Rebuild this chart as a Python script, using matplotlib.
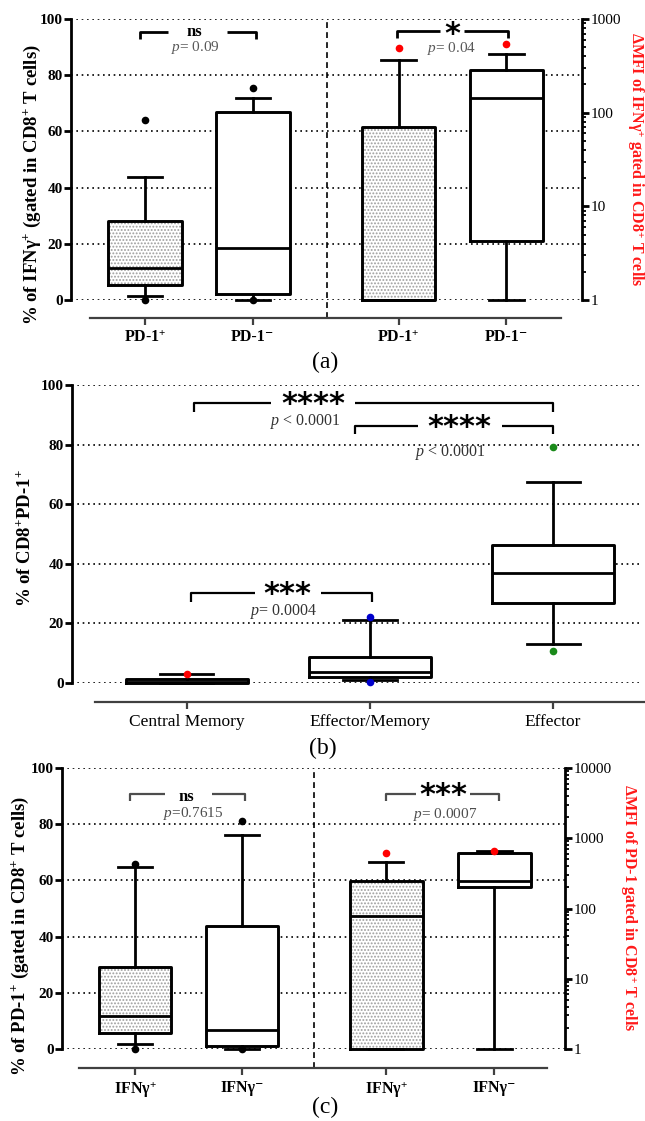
import matplotlib
matplotlib.use('Agg')
import matplotlib.pyplot as plt
import numpy as np
from matplotlib.ticker import FuncFormatter, LogLocator, NullFormatter

plt.rcParams['font.family'] = ['Liberation Serif', 'DejaVu Serif']
plt.rcParams['mathtext.fontset'] = 'custom'
plt.rcParams['mathtext.rm'] = 'Liberation Serif'
plt.rcParams['mathtext.it'] = 'Liberation Serif:italic'
plt.rcParams['mathtext.bf'] = 'Liberation Serif:bold'
plt.rcParams['hatch.linewidth'] = 0.9

SUP_P = r'$^{\mathbf{+}}$'
SUP_M = '\u207b'

##################### DATA #####################
# (a) % IFNg+ (left, linear) and dMFI (right, log)
a_labels = ['PD-1' + SUP_P, 'PD-1' + SUP_M, 'PD-1' + SUP_P, 'PD-1' + SUP_M]
a_lin_q1 = [5.3, 2.0]
a_lin_med = [11.4, 18.6]
a_lin_q3 = [28.1, 67.0]
a_lin_lo = [1.4, 0.0]
a_lin_hi = [43.8, 72.0]
a_lin_out = [[64.0, 0.0], [75.5, 0.0]]
a_log_q1 = [1.0, 4.3]
a_log_med = [1.0, 143.0]
a_log_q3 = [70.0, 283.0]
a_log_lo = [1.0, 1.0]
a_log_hi = [361.0, 418.0]
a_log_out = [[486.0], [540.0]]

# (b) % of CD8+PD-1+
b_labels = ['Central Memory', 'Effector/Memory', 'Effector']
b_q1 = [0.0, 1.9, 26.7]
b_med = [0.5, 3.7, 36.9]
b_q3 = [1.3, 8.7, 46.4]
b_lo = [0.0, 0.9, 13.0]
b_hi = [3.0, 21.0, 67.6]
b_out = [[3.0], [22.0, 0.5], [79.3, 10.9]]
b_out_colors = ['red', '#0000cc', '#1a8a1a']

# (c) % PD-1+ (left, linear) and dMFI of PD-1 (right, log)
c_labels = ['IFNγ' + SUP_P, 'IFNγ' + SUP_M, 'IFNγ' + SUP_P, 'IFNγ' + SUP_M]
c_lin_q1 = [5.7, 1.2]
c_lin_med = [11.6, 6.9]
c_lin_q3 = [29.2, 43.9]
c_lin_lo = [1.8, 0.0]
c_lin_hi = [64.6, 76.2]
c_lin_out = [[66.0, 0.0], [81.3, 0.0]]
c_log_q1 = [1.0, 200.0]
c_log_med = [77.0, 250.0]
c_log_q3 = [244.0, 617.0]
c_log_lo = [1.0, 1.0]
c_log_hi = [459.0, 666.0]
c_log_out = [[610.0], [666.0]]

GRID_LS = (0, (1, 2.2))
HATCH = '.....'
STAR = dict(ha='center', va='center', fontsize=22, fontweight='bold', family='DejaVu Sans')


def draw_boxes(ax, pos, q1, med, q3, lo, hi, out, hatched, width, capw, fcolors):
    stats = [dict(med=m, q1=a, q3=b, whislo=l, whishi=h, fliers=f)
             for a, m, b, l, h, f in zip(q1, med, q3, lo, hi, out)]
    # fill layer (white / stippled)
    fill = ax.bxp(stats, positions=pos, widths=width, patch_artist=True,
                  showcaps=False, showfliers=False, manage_ticks=False,
                  boxprops=dict(facecolor='white', edgecolor='0.62', linewidth=0),
                  whiskerprops=dict(linewidth=0), medianprops=dict(linewidth=0),
                  zorder=2)
    for patch, h in zip(fill['boxes'], hatched):
        if h:
            patch.set_hatch(HATCH)
        patch.set_clip_on(False)
    # outline layer
    art = ax.bxp(stats, positions=pos, widths=width, capwidths=capw,
                 manage_ticks=False,
                 boxprops=dict(color='black', linewidth=2.1),
                 whiskerprops=dict(color='black', linewidth=2.0),
                 capprops=dict(color='black', linewidth=2.0),
                 medianprops=dict(color='black', linewidth=2.0),
                 flierprops=dict(marker='o', markersize=5.5, markeredgewidth=0),
                 zorder=3)
    for fl, c in zip(art['fliers'], fcolors):
        fl.set_markerfacecolor(c)
    for key in art:
        for a in art[key]:
            a.set_clip_on(False)


def style_left(ax, offset):
    ax.set_ylim(0, 100)
    ax.set_yticks(range(0, 101, 20))
    ax.yaxis.grid(True, linestyle=GRID_LS, color='black', linewidth=1.2)
    ax.set_axisbelow(True)
    ax.spines['top'].set_visible(False)
    ax.spines['right'].set_visible(False)
    ax.spines['left'].set_linewidth(2)
    ax.spines['bottom'].set_position(('outward', offset))
    ax.spines['bottom'].set_linewidth(1.6)
    ax.spines['bottom'].set_color('0.25')
    ax.tick_params(axis='y', direction='out', length=5, width=2, labelsize=11, pad=1)
    ax.tick_params(axis='x', direction='out', length=5, width=1.6, color='0.25', pad=3)
    for t in ax.get_yticklabels():
        t.set_fontweight('bold')


def bracket(ax, x0, x1, y, drop, gap, lw=2.0, color='black'):
    ax.plot([x0, x0, gap[0]], [y - drop, y, y], color=color, lw=lw, solid_capstyle='butt', zorder=4)
    ax.plot([gap[1], x1, x1], [y, y, y - drop], color=color, lw=lw, solid_capstyle='butt', zorder=4)


def split_panel(rect, xlim, pos, divider, bounds, labels, lin, log, logtop, offset):
    ax = fig.add_axes(rect)
    style_left(ax, offset)
    ax.set_xlim(*xlim)
    ax.spines['bottom'].set_bounds(*bounds)
    ax.set_xticks(pos)
    ax.set_xticklabels(labels, fontsize=11.5, fontweight='bold')
    ax.axvline(divider, ymin=-offset / 0.72 / (rect[3] * 1121), ymax=1, color='black',
               lw=1.2, linestyle=(0, (3.5, 2.5)), clip_on=False, zorder=1)
    draw_boxes(ax, pos[:2], *lin, hatched=[True, False], width=0.68, capw=0.32,
               fcolors=['black', 'black'])

    ax2 = ax.twinx()
    ax2.set_yscale('log')
    ax2.set_ylim(1, logtop)
    ax2.set_xlim(*xlim)
    for s in ['top', 'left', 'bottom']:
        ax2.spines[s].set_visible(False)
    ax2.spines['right'].set_linewidth(2)
    ax2.yaxis.set_major_locator(LogLocator(base=10, numticks=10))
    ax2.yaxis.set_minor_locator(LogLocator(base=10, subs=np.arange(2, 10), numticks=50))
    ax2.yaxis.set_minor_formatter(NullFormatter())
    ax2.yaxis.set_major_formatter(FuncFormatter(lambda v, p: f'{v:g}'))
    ax2.tick_params(axis='y', which='major', direction='out', length=5, width=2, labelsize=11, pad=1)
    ax2.tick_params(axis='y', which='minor', direction='out', length=3, width=1.3)
    draw_boxes(ax2, pos[2:], *log, hatched=[True, False], width=0.68, capw=0.32,
               fcolors=['red', 'red'])
    return ax, ax2


fig = plt.figure(figsize=(6.45, 11.21), dpi=100)

################# PANEL (a) #################
a_pos = [1, 2, 3.35, 4.35]
ax_a, ax_a2 = split_panel([71 / 645, 1 - 300 / 1121, 511 / 645, 281 / 1121],
                          (0.315, 5.05), a_pos, 2.685, (0.49, 4.86), a_labels,
                          (a_lin_q1, a_lin_med, a_lin_q3, a_lin_lo, a_lin_hi, a_lin_out),
                          (a_log_q1, a_log_med, a_log_q3, a_log_lo, a_log_hi, a_log_out),
                          1000, 13)
bracket(ax_a, 0.95, 2.03, 95.5, 2.5, (1.21, 1.76))
ax_a.text(1.46, 95.3, 'ns', ha='center', va='center', fontsize=12, fontweight='bold')
ax_a.text(1.47, 90.0, '$p$= 0.09', ha='center', va='center', fontsize=11, color='0.35')
bracket(ax_a, 3.34, 4.36, 95.7, 2.5, (3.73, 3.96))
ax_a.text(3.85, 94.5, '*', **STAR)
ax_a.text(3.84, 89.6, '$p$= 0.04', ha='center', va='center', fontsize=11, color='0.35')

fig.text(32 / 645, 1 - 185 / 1121, '% of IFNγ' + SUP_P + ' (gated in CD8' + SUP_P + ' T cells)',
         rotation=90, ha='center', va='center', fontsize=13.5, fontweight='bold')
fig.text(635 / 645, 1 - 159 / 1121, 'ΔMFI of IFNγ' + SUP_P + ' gated in CD8' + SUP_P + ' T cells',
         rotation=270, ha='center', va='center', fontsize=11.5, fontweight='bold', color='#ff1a1a')
fig.text(325 / 645, 1 - 362 / 1121, '(a)', ha='center', va='center', fontsize=17)

################# PANEL (b) #################
ax_b = fig.add_axes([72 / 645, 1 - 683 / 1121, 568 / 645, 298 / 1121])
style_left(ax_b, 14)
ax_b.set_xlim(0.372, 3.475)
ax_b.spines['bottom'].set_bounds(0.497, 3.6)
b_pos = [1, 2, 3]
ax_b.set_xticks(b_pos)
ax_b.set_xticklabels(b_labels, fontsize=12.5)
draw_boxes(ax_b, b_pos, b_q1, b_med, b_q3, b_lo, b_hi, b_out, hatched=[False] * 3,
           width=0.67, capw=0.29, fcolors=b_out_colors)
bracket(ax_b, 1.04, 3.0, 93.9, 3.0, (1.46, 1.92), lw=1.6)
ax_b.text(1.69, 93.3, '****', **STAR)
ax_b.text(1.65, 87.9, '$p$ < 0.0001', ha='center', va='center', fontsize=11.5, color='0.2')
bracket(ax_b, 1.92, 3.0, 86.3, 2.8, (2.26, 2.72), lw=1.6)
ax_b.text(2.49, 85.6, '****', **STAR)
ax_b.text(2.44, 77.2, '$p$ < 0.0001', ha='center', va='center', fontsize=11.5, color='0.2')
bracket(ax_b, 1.02, 2.01, 30.3, 3.0, (1.37, 1.73), lw=1.6)
ax_b.text(1.55, 29.7, '***', **STAR)
ax_b.text(1.53, 23.9, '$p$= 0.0004', ha='center', va='center', fontsize=11.5, color='0.2')

fig.text(25 / 645, 1 - 538 / 1121, '% of CD8' + SUP_P + 'PD-1' + SUP_P,
         rotation=90, ha='center', va='center', fontsize=13.5, fontweight='bold')
fig.text(323 / 645, 1 - 748 / 1121, '(b)', ha='center', va='center', fontsize=17)

################# PANEL (c) #################
c_pos = [1, 2, 3.35, 4.36]
ax_c, ax_c2 = split_panel([62 / 645, 1 - 1049 / 1121, 503 / 645, 281 / 1121],
                          (0.318, 5.02), c_pos, 2.67, (0.477, 4.85), c_labels,
                          (c_lin_q1, c_lin_med, c_lin_q3, c_lin_lo, c_lin_hi, c_lin_out),
                          (c_log_q1, c_log_med, c_log_q3, c_log_lo, c_log_hi, c_log_out),
                          10000, 14)
bracket(ax_c, 0.953, 2.03, 90.9, 2.8, (1.28, 1.72), lw=1.6, color='0.3')
ax_c.text(1.48, 89.8, 'ns', ha='center', va='center', fontsize=12, fontweight='bold')
ax_c.text(1.54, 83.8, '$p$=0.7615', ha='center', va='center', fontsize=11, color='0.3')
bracket(ax_c, 3.35, 4.40, 90.9, 2.8, (3.63, 4.13), lw=1.6, color='0.3')
ax_c.text(3.88, 90.3, '***', **STAR)
ax_c.text(3.90, 83.6, '$p$= 0.0007', ha='center', va='center', fontsize=11, color='0.3')

fig.text(20 / 645, 1 - 936 / 1121, '% of PD-1' + SUP_P + ' (gated in CD8' + SUP_P + ' T cells)',
         rotation=90, ha='center', va='center', fontsize=13.5, fontweight='bold')
fig.text(628 / 645, 1 - 908 / 1121, 'ΔMFI of PD-1 gated in CD8' + SUP_P + ' T cells',
         rotation=270, ha='center', va='center', fontsize=11.5, fontweight='bold', color='#ff1a1a')
fig.text(325 / 645, 1 - 1107 / 1121, '(c)', ha='center', va='center', fontsize=17)

fig.savefig('out.png', dpi=100)
